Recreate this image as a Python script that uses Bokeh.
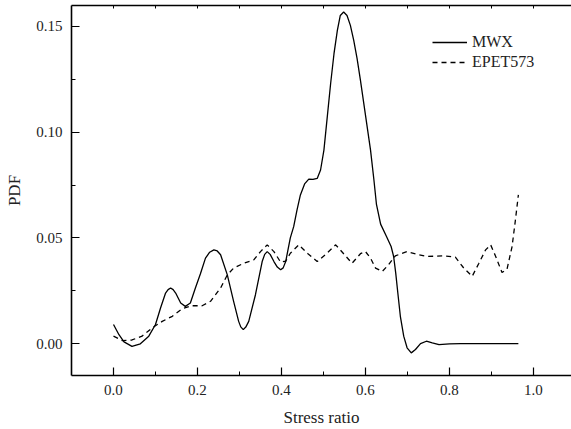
from bokeh.plotting import figure
from bokeh.models import (Range1d, FixedTicker, LinearAxis, NumeralTickFormatter,
                          Legend, LegendItem, CustomJSTickFormatter)
from bokeh.embed import file_html
from bokeh.resources import INLINE

# ---- data ----
mwx_x = [0.0, 0.013, 0.025, 0.044, 0.064, 0.084, 0.1, 0.112, 0.124, 0.13, 0.136, 0.142,
         0.148, 0.16, 0.171, 0.183, 0.195, 0.207, 0.219, 0.229, 0.239, 0.247, 0.255,
         0.271, 0.286, 0.298, 0.303, 0.309, 0.315, 0.322, 0.338, 0.354, 0.36, 0.366,
         0.373, 0.382, 0.39, 0.398, 0.404, 0.41, 0.421, 0.429, 0.437, 0.445, 0.455,
         0.465, 0.475, 0.485, 0.493, 0.501, 0.509, 0.517, 0.525, 0.533, 0.540, 0.548,
         0.556, 0.564, 0.572, 0.58, 0.588, 0.596, 0.604, 0.612, 0.62, 0.626, 0.636,
         0.65, 0.661, 0.667, 0.672, 0.677, 0.683, 0.691, 0.699, 0.709, 0.719, 0.731,
         0.745, 0.759, 0.775, 0.80, 0.826, 0.964]
mwx_y = [0.009, 0.0042, 0.0008, -0.0013, -0.0001, 0.0035, 0.009, 0.0168, 0.0239, 0.0255,
         0.0263, 0.0255, 0.0239, 0.0192, 0.0176, 0.0192, 0.0263, 0.033, 0.0404, 0.0432,
         0.0443, 0.0438, 0.042, 0.0325, 0.02, 0.0105, 0.0079, 0.0066, 0.0078, 0.0105,
         0.0231, 0.0388, 0.0422, 0.0435, 0.0422, 0.0388, 0.0362, 0.0349, 0.0358, 0.0388,
         0.05, 0.0553, 0.0632, 0.0703, 0.0755, 0.0778, 0.0777, 0.0781, 0.0821, 0.0915,
         0.1072, 0.123, 0.1371, 0.1481, 0.1552, 0.1568, 0.1552, 0.1505, 0.1434, 0.1348,
         0.1245, 0.1135, 0.1025, 0.0915, 0.0775, 0.066, 0.0565, 0.0506, 0.0459, 0.0412,
         0.0333, 0.0239, 0.0129, 0.0035, -0.002, -0.0044, -0.0028, 0.0, 0.0011, 0.0003,
         -0.0005, -0.0001, 0.0, 0.0]

epet_x = [0.0, 0.021, 0.044, 0.068, 0.092, 0.116, 0.14, 0.164, 0.187, 0.211, 0.231,
          0.255, 0.271, 0.286, 0.31, 0.334, 0.35, 0.366, 0.382, 0.398, 0.41, 0.421,
          0.441, 0.463, 0.485, 0.507, 0.529, 0.548, 0.568, 0.588, 0.6, 0.612, 0.624,
          0.64, 0.655, 0.671, 0.699, 0.727, 0.747, 0.786, 0.814, 0.834, 0.854, 0.87,
          0.886, 0.898, 0.91, 0.925, 0.937, 0.949, 0.957, 0.964]
epet_y = [0.0035, 0.0014, 0.0017, 0.0035, 0.0074, 0.0105, 0.0129, 0.0165, 0.0179, 0.0179,
          0.02, 0.0263, 0.0325, 0.0357, 0.038, 0.0396, 0.0435, 0.0467, 0.0435, 0.0385,
          0.039, 0.0427, 0.0467, 0.0425, 0.0388, 0.0425, 0.0467, 0.0425, 0.038, 0.0425,
          0.0435, 0.0404, 0.0357, 0.0341, 0.0373, 0.0415, 0.0435, 0.042, 0.0412, 0.0415,
          0.0409, 0.0357, 0.0318, 0.038, 0.0443, 0.0467, 0.0412, 0.0336, 0.0352, 0.0459,
          0.0585, 0.0703]

x_major = [0.0, 0.2, 0.4, 0.6, 0.8, 1.0]
x_minor = [0.1, 0.3, 0.5, 0.7, 0.9]
y_major = [0.0, 0.05, 0.10, 0.15]
y_minor = [0.025, 0.075, 0.125]
series_names = ["MWX", "EPET573"]

FONT = "Liberation Serif"
TXT = "#222222"

p = figure(width=571, height=429, output_backend="svg", toolbar_location=None,
           x_range=Range1d(-0.1, 1.0905), y_range=Range1d(-0.0151, 0.1599),
           min_border_left=71, min_border_right=0, min_border_top=5,
           min_border_bottom=53, x_axis_label="Stress ratio", y_axis_label="PDF")
p.outline_line_color = None
p.xgrid.visible = False
p.ygrid.visible = False
p.background_fill_color = "white"
p.border_fill_color = "white"

r1 = p.line(mwx_x, mwx_y, line_color="black", line_width=1.3)
r2 = p.line(epet_x, epet_y, line_color="black", line_width=1.3, line_dash="5 4")

xa = p.xaxis[0]
xa.ticker = FixedTicker(ticks=x_major, minor_ticks=x_minor)
xa.formatter = NumeralTickFormatter(format="0.0")
ya = p.yaxis[0]
ya.ticker = FixedTicker(ticks=y_major, minor_ticks=y_minor)
ya.formatter = NumeralTickFormatter(format="0.00")

for ax in (xa, ya):
    ax.axis_line_width = 1.6
    ax.axis_line_color = "black"
    ax.major_tick_in = 8
    ax.major_tick_out = 0
    ax.minor_tick_in = 4
    ax.minor_tick_out = 0
    ax.major_tick_line_width = 1.2
    ax.minor_tick_line_width = 1.0
    ax.major_label_text_font = FONT
    ax.major_label_text_font_size = "15px"
    ax.major_label_text_color = TXT
    ax.axis_label_text_font = FONT
    ax.axis_label_text_font_size = "17px"
    ax.axis_label_text_font_style = "normal"
    ax.axis_label_text_color = TXT
    ax.major_label_standoff = 9
xa.axis_label_standoff = 10
ya.axis_label_standoff = 9

top = LinearAxis(ticker=FixedTicker(ticks=x_major + x_minor, minor_ticks=[]),
                 formatter=CustomJSTickFormatter(code="return '';"),
                 major_label_text_font_size="1px", major_label_standoff=0,
                 major_tick_in=3, major_tick_out=0, axis_line_width=1.6,
                 major_tick_line_width=1.0)
p.add_layout(top, "above")

legend = Legend(items=[LegendItem(label=series_names[0], renderers=[r1]),
                       LegendItem(label=series_names[1], renderers=[r2])],
                location=(361, 303), padding=0, margin=0, spacing=0,
                glyph_width=35, glyph_height=20, label_height=20, label_standoff=5,
                border_line_color=None, background_fill_alpha=0,
                label_text_font=FONT, label_text_font_size="16px",
                label_text_color=TXT)
p.add_layout(legend, "center")

open("out.html", "w").write(file_html(p, INLINE))
